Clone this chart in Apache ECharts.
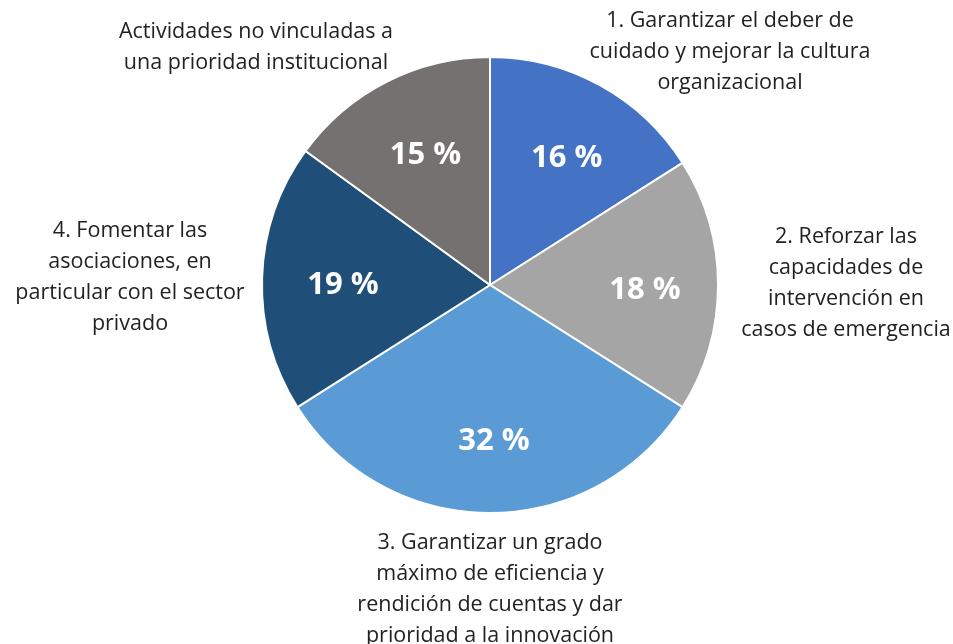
<!DOCTYPE html>
<html>
<head>
<meta charset="utf-8">
<script src="https://cdn.jsdelivr.net/npm/echarts@6/dist/echarts.min.js"></script>
<style>
  html, body { margin: 0; padding: 0; background: #fff; }
  #chart { width: 953px; height: 644px; }
</style>
</head>
<body>
<div id="chart"></div>
<script>
var categories = [
    "1. Garantizar el deber de\ncuidado y mejorar la cultura\norganizacional",
    "2. Reforzar las\ncapacidades de\nintervención en\ncasos de emergencia",
    "3. Garantizar un grado\nmáximo de eficiencia y\nrendición de cuentas y dar\nprioridad a la innovación",
    "4. Fomentar las\nasociaciones, en\nparticular con el sector\nprivado",
    "Actividades no vinculadas a\nuna prioridad institucional"
];
var shares = [16, 18, 32, 19, 15];
var colors = ["#4472C4", "#A5A5A5", "#5B9BD5", "#1F4E79", "#767171"];

// where each category label sits (centre of text block)
var labelSpots = [[730, 52], [846, 283], [490, 589], [130, 277], [256, 47]];

var chart = echarts.init(document.getElementById('chart'));

var pieData = categories.map(function(c, i) {
    return { name: c, value: shares[i], itemStyle: { color: colors[i] } };
});

var option = {
    animation: false,
    series: [{
        type: 'pie',
        center: [490, 285],
        radius: 228,
        startAngle: 90,
        clockwise: true,
        data: pieData,
        itemStyle: { borderColor: '#fff', borderWidth: 2 },
        label: {
            show: true,
            position: 'outside',
            formatter: '{b}',
            fontFamily: 'Open Sans',
            fontSize: 21.5,
            lineHeight: 31,
            color: '#222',
            overflow: 'none',
            width: 400
        },
        labelLine: { show: false },
        labelLayout: function(p) {
            var s = labelSpots[p.dataIndex];
            return { x: s[0], y: s[1], align: 'center', verticalAlign: 'middle' };
        },
        emphasis: { disabled: true }
    }, {
        type: 'pie',
        center: [494, 290],
        radius: [68, 228],
        startAngle: 90,
        clockwise: true,
        silent: true,
        data: shares.map(function(v, i) { return { name: 'p' + i, value: v }; }),
        itemStyle: { color: 'rgba(0,0,0,0)' },
        label: {
            show: true,
            position: 'inside',
            formatter: function(p) { return p.value + ' %'; },
            fontFamily: 'Open Sans',
            fontWeight: 'bold',
            fontSize: 31,
            color: '#fff'
        },
        labelLine: { show: false }
    }]
};

chart.setOption(option);
</script>
</body>
</html>
